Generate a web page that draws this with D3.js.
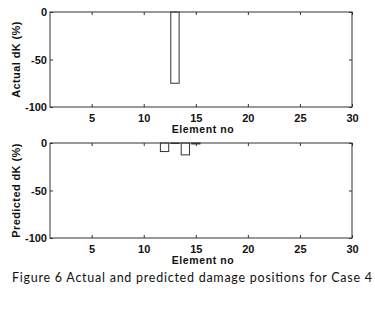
<!DOCTYPE html>
<html>
<head>
<meta charset="utf-8">
<script src="https://cdn.jsdelivr.net/npm/d3@7"></script>
<style>
  body { margin: 0; background: #fff; }
  svg { display: block; }
</style>
</head>
<body>
<div id="chart"></div>
<script>
// element numbers and damage values (%)
const elements = d3.range(1, 31);
const actualDK = [0,0,0,0,0,0,0,0,0,0,0,0,-75,0,0,0,0,0,0,0,0,0,0,0,0,0,0,0,0,0];
const predictedDK = [0,0,0,0,0,0,0,0,0,0,0,-9,-0.5,-12.5,-1,0,0,0,0,0,0,0,0,0,0,0,0,0,0,0];
const xTicks = [5, 10, 15, 20, 25, 30];
const yTicks = [0, -50, -100];

const width = 375, height = 313;

const svg = d3.select("#chart")
    .append("svg")
    .attr("width", width)
    .attr("height", height)
    .attr("viewBox", [0, 0, width, height]);

const x = d3.scaleLinear()
    .domain([1, 30])
    .range([50, 352]);

const barW = x(1.8) - x(1);  // bar width 0.8 units

function panel(values, top, bottom, yLabel) {
    const y = d3.scaleLinear()
        .domain([-100, 0])
        .range([bottom, top]);

    const g = svg.append("g");

    // frame
    g.append("rect")
        .attr("x", x(1))
        .attr("y", y(0))
        .attr("width", x(30) - x(1))
        .attr("height", y(-100) - y(0))
        .attr("fill", "none")
        .attr("stroke", "#333")
        .attr("stroke-width", 1);

    // inner ticks, bottom + top
    g.append("g")
        .attr("transform", `translate(0,${bottom})`)
        .call(d3.axisBottom(x).tickValues(xTicks).tickSize(-3).tickPadding(7))
        .call(a => a.select(".domain").remove());
    g.append("g")
        .attr("transform", `translate(0,${top})`)
        .call(d3.axisTop(x).tickValues(xTicks).tickSize(-3).tickFormat(""))
        .call(a => a.select(".domain").remove());

    // inner ticks, left + right (plain hyphen for minus, as in the figure)
    g.append("g")
        .attr("transform", `translate(${x(1)},0)`)
        .call(d3.axisLeft(y).tickValues(yTicks).tickSize(-3).tickPadding(3)
            .tickFormat(d => String(d)))
        .call(a => a.select(".domain").remove());
    g.append("g")
        .attr("transform", `translate(${x(30)},0)`)
        .call(d3.axisRight(y).tickValues(yTicks).tickSize(-3).tickFormat(""))
        .call(a => a.select(".domain").remove());

    g.selectAll(".tick line").attr("stroke", "#333");
    g.selectAll(".tick text")
        .attr("fill", "#111")
        .attr("font-family", "Liberation Sans, Arial, sans-serif")
        .attr("font-weight", "bold")
        .attr("font-size", 11);

    // bars (outlined, no fill)
    g.selectAll(".bar")
        .data(elements.map((e, i) => ({e, v: values[i]})).filter(d => d.v !== 0))
        .join("rect")
        .attr("class", "bar")
        .attr("x", d => x(d.e) - barW / 2)
        .attr("width", barW)
        .attr("y", y(0))
        .attr("height", d => y(d.v) - y(0))
        .attr("fill", "none")
        .attr("stroke", "#333")
        .attr("stroke-width", 1);

    // axis titles
    g.append("text")
        .attr("x", (x(1) + x(30)) / 2 + 2)
        .attr("y", bottom + 26)
        .attr("text-anchor", "middle")
        .attr("font-family", "Liberation Sans, Arial, sans-serif")
        .attr("font-weight", "bold")
        .attr("font-size", 10.5)
        .attr("letter-spacing", 0.6)
        .attr("fill", "#111")
        .text("Element no");

    g.append("text")
        .attr("transform", `translate(20,${(top + bottom) / 2}) rotate(-90)`)
        .attr("text-anchor", "middle")
        .attr("font-family", "Liberation Sans, Arial, sans-serif")
        .attr("font-weight", "bold")
        .attr("font-size", 11)
        .attr("letter-spacing", 0.4)
        .attr("fill", "#111")
        .text(yLabel);
}

panel(actualDK, 12, 107, "Actual dK (%)");
panel(predictedDK, 143, 238, "Predicted dK (%)");

svg.append("text")
    .attr("x", 12)
    .attr("y", 282)
    .attr("textLength", 360)
    .attr("font-family", "Lato, Open Sans, sans-serif")
    .attr("font-size", 12.5)
    .attr("fill", "#111")
    .text("Figure 6 Actual and predicted damage positions for Case 4");
</script>
</body>
</html>
